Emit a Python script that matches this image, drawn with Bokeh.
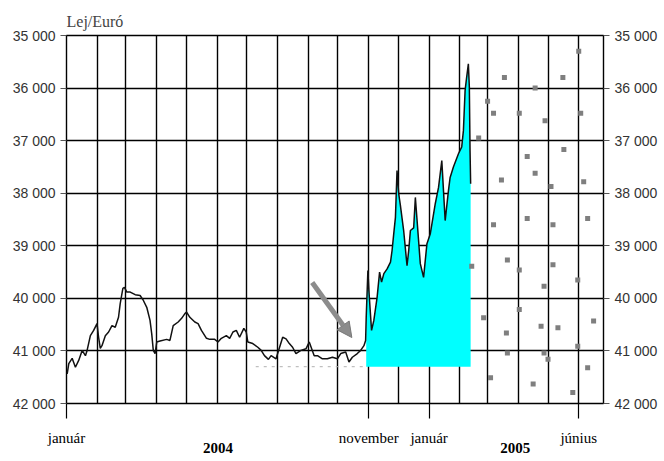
import pandas as pd
from bokeh.plotting import figure
from bokeh.models import Range1d, FixedTicker, LinearAxis, DatetimeAxis, Arrow, NormalHead
from bokeh.embed import file_html
from bokeh.resources import INLINE

START = pd.Timestamp("2004-01-01")

# Lej/Euró exchange rate: days since 2004-01-01 and value
rate_days = [0.7, 2.3, 5.7, 9.0, 12.3, 15.8, 19.1, 20.8, 24.1, 27.4, 30.8, 32.4, 34.1, 35.8,
             39.2, 42.5, 45.9, 49.2, 52.5, 54.2, 56.9, 58.5, 60.9, 64.3, 69.3, 74.3, 77.6,
             81.0, 84.3, 86.0, 87.6, 89.4, 91.1, 94.4, 101.1, 104.4, 107.7, 112.7, 116.2,
             119.5, 121.2, 124.5, 129.5, 132.8, 136.2, 141.3, 144.6, 149.6, 152.9, 156.3,
             161.3, 164.7, 168.0, 171.4, 174.7, 179.0, 181.4, 183.0, 188.0, 193.1, 196.5,
             199.8, 203.8, 206.5, 211.5, 218.2, 221.6, 224.9, 228.2, 231.6, 236.6, 241.7,
             245.0, 250.0, 253.3, 258.3, 263.3, 268.4, 273.4, 276.8, 281.8, 285.1, 288.5,
             293.5, 296.9, 300.2, 301.9, 302.5, 304.2, 305.2, 307.9, 310.2, 313.5, 316.0,
             318.0, 320.3, 323.6, 327.0, 328.6, 330.3, 332.0, 333.6, 335.3, 337.0, 340.3,
             343.7, 345.4, 347.1, 350.4, 352.1, 353.7, 357.1, 360.4, 363.8, 367.2, 372.2,
             375.5, 378.8, 380.5, 382.2, 385.5, 387.2, 390.5, 395.6, 398.9, 400.6, 402.3,
             403.9, 405.6, 406.6, 407.3, 407.9]
rate_values = [41435, 41240, 41140, 41310, 41180, 40990, 41090, 40990, 40710, 40610, 40480,
               40740, 40950, 40900, 40710, 40640, 40520, 40550, 40360, 40100, 39810, 39790,
               39880, 39880, 39930, 39945, 40040, 40170, 40420, 40670, 40990, 41050, 40830,
               40810, 40780, 40800, 40520, 40450, 40380, 40290, 40260, 40360, 40450, 40480,
               40610, 40760, 40780, 40780, 40830, 40760, 40710, 40760, 40640, 40610, 40740,
               40570, 40640, 40830, 40860, 40930, 40990, 41090, 41160, 41090, 41150, 40740,
               40770, 40860, 40930, 41050, 40990, 40960, 40830, 41090, 41090, 41150, 41150,
               41120, 41150, 41050, 41020, 41210, 41120, 41050, 40990, 40900, 40800, 40360,
               39470, 39850, 40610, 40420, 39980, 39500, 39690, 39530, 39440, 39310, 39090,
               38770, 38460, 37570, 38010, 38230, 38710, 39380, 39090, 38710, 38660, 38080,
               38480, 39340, 39600, 38960, 38770, 38200, 37890, 37380, 37950, 38520, 37950,
               37700, 37500, 37250, 37120, 36810, 36050, 35790, 35540, 35980, 37190, 37820]

# 2005 dotted pattern
dot_dates = ["2005-03-18", "2005-05-16", "2005-06-01", "2005-04-18", "2005-03-01",
             "2005-03-07", "2005-04-02", "2005-04-28", "2005-06-03", "2005-02-20",
             "2005-05-17", "2005-04-10", "2005-04-18", "2005-03-15", "2005-05-04",
             "2005-06-06", "2005-03-07", "2005-04-10", "2005-05-06", "2005-06-10",
             "2005-02-13", "2005-03-21", "2005-04-02", "2005-05-06", "2005-04-27",
             "2005-05-31", "2005-02-25", "2005-04-02", "2005-03-20", "2005-04-24",
             "2005-05-11", "2005-06-16", "2005-03-21", "2005-04-27", "2005-05-01",
             "2005-05-31", "2005-06-10", "2005-03-04", "2005-04-16", "2005-05-26"]
dot_values = [35800, 35800, 35300, 36000, 36250, 36480, 36480, 36620, 36480, 36950,
              37170, 37300, 37620, 37750, 37870, 37780, 38600, 38480, 38600, 38480,
              39390, 39270, 39460, 39360, 39770, 39650, 40370, 40210, 40660, 40530,
              40560, 40430, 41040, 41040, 41160, 40910, 41320, 41510, 41630, 41790]

fill_start_day = 302
fill_base = 41300

ref_days = [191, 302]
ref_values = [41300, 41300]

y_ticks = [35000, 36000, 37000, 38000, 39000, 40000, 41000, 42000]
y_tick_labels = ["35 000", "36 000", "37 000", "38 000", "39 000", "40 000", "41 000", "42 000"]

x_tick_dates = ["2004-01-01", "2004-11-01", "2005-01-01", "2005-06-01"]
x_tick_labels = ["január", "november", "január", "június"]

year_labels = ["2004", "2005"]
year_dates = ["2004-06-02", "2005-03-29"]

arrow_days = [248, 288]
arrow_values = [39700, 40745]

END = START + pd.Timedelta(days=542)


def ms(ts):
    return pd.Timestamp(ts).value / 1e6


rate_dates = [START + pd.Timedelta(days=d) for d in rate_days]
fill_dates = [dt for dt, d in zip(rate_dates, rate_days) if d >= fill_start_day]
fill_vals = [v for v, d in zip(rate_values, rate_days) if d >= fill_start_day]

p = figure(width=660, height=458, x_axis_type="datetime",
           x_range=Range1d(START, END), y_range=Range1d(42000, 35000),
           output_backend="svg", toolbar_location=None,
           min_border_left=66, min_border_right=54, min_border_top=35, min_border_bottom=55,
           background_fill_color="white", border_fill_color="white")

p.title.text = "Lej/Euró"
p.title.text_font = "Liberation Serif"
p.title.text_font_size = "16px"
p.title.text_font_style = "normal"
p.title.align = "left"
p.title.standoff = 11

# grids
month_starts = [ms(d) for d in pd.date_range("2004-01-01", "2005-06-01", freq="MS")]
p.xgrid.ticker = FixedTicker(ticks=month_starts)
p.ygrid.ticker = FixedTicker(ticks=y_ticks)
for g in (p.xgrid, p.ygrid):
    g.grid_line_color = "black"
    g.grid_line_width = 1.4
    g.grid_line_alpha = 1.0
p.outline_line_color = "black"
p.outline_line_width = 1.4

# axes
ylab = {t: l for t, l in zip(y_ticks, y_tick_labels)}
p.yaxis.ticker = FixedTicker(ticks=y_ticks)
p.yaxis.major_label_overrides = ylab
right = LinearAxis(ticker=FixedTicker(ticks=y_ticks), major_label_overrides=ylab)
p.add_layout(right, "right")
for ax in (p.yaxis[0], right):
    ax.axis_line_color = None
    ax.major_tick_out = 6
    ax.major_tick_in = 0
    ax.minor_tick_line_color = None
    ax.major_tick_line_color = "#555555"
    ax.major_label_text_font = "Liberation Sans"
    ax.major_label_text_font_size = "14px"
    ax.major_label_text_color = "#333333"
    ax.major_label_standoff = 5

xt = [ms(d) for d in x_tick_dates]
p.xaxis.ticker = FixedTicker(ticks=xt)
p.xaxis.major_label_overrides = {t: l for t, l in zip(xt, x_tick_labels)}
p.xaxis.axis_line_color = None
p.xaxis.major_tick_out = 15
p.xaxis.major_tick_in = 0
p.xaxis.major_tick_line_color = "black"
p.xaxis.major_tick_line_width = 1.2
p.xaxis.minor_tick_line_color = None
p.xaxis.major_label_text_font = "Liberation Serif"
p.xaxis.major_label_text_font_size = "15px"
p.xaxis.major_label_text_color = "black"
p.xaxis.major_label_standoff = 11

yt = [ms(d) for d in year_dates]
years_axis = DatetimeAxis(ticker=FixedTicker(ticks=yt),
                          major_label_overrides={t: l for t, l in zip(yt, year_labels)},
                          axis_line_color=None, major_tick_line_color=None,
                          minor_tick_line_color=None, major_tick_out=0, major_tick_in=0,
                          major_label_standoff=-6,
                          major_label_text_font="Liberation Serif",
                          major_label_text_font_size="15px",
                          major_label_text_font_style="bold",
                          major_label_text_color="black")
p.add_layout(years_axis, "below")

# cyan area and line
p.varea(x=fill_dates, y1=fill_vals, y2=fill_base, fill_color="#00ffff")
p.line(x=[START + pd.Timedelta(days=d) for d in ref_days], y=ref_values,
       line_color="#b0b0b0", line_width=1, line_dash="3 5")
p.line(x=rate_dates, y=rate_values, line_color="#111111", line_width=1.5)
p.scatter(x=pd.to_datetime(dot_dates), y=dot_values, marker="square", size=5,
          fill_color="#7f7f7f", line_color=None)

# arrow
p.add_layout(Arrow(x_start=ms(START + pd.Timedelta(days=arrow_days[0])), y_start=arrow_values[0],
                   x_end=ms(START + pd.Timedelta(days=arrow_days[1])), y_end=arrow_values[1],
                   line_color="#8c8c8c", line_width=5,
                   end=NormalHead(size=15, fill_color="#8c8c8c", line_color="#777777")))

open("out.html", "w").write(file_html(p, INLINE))
